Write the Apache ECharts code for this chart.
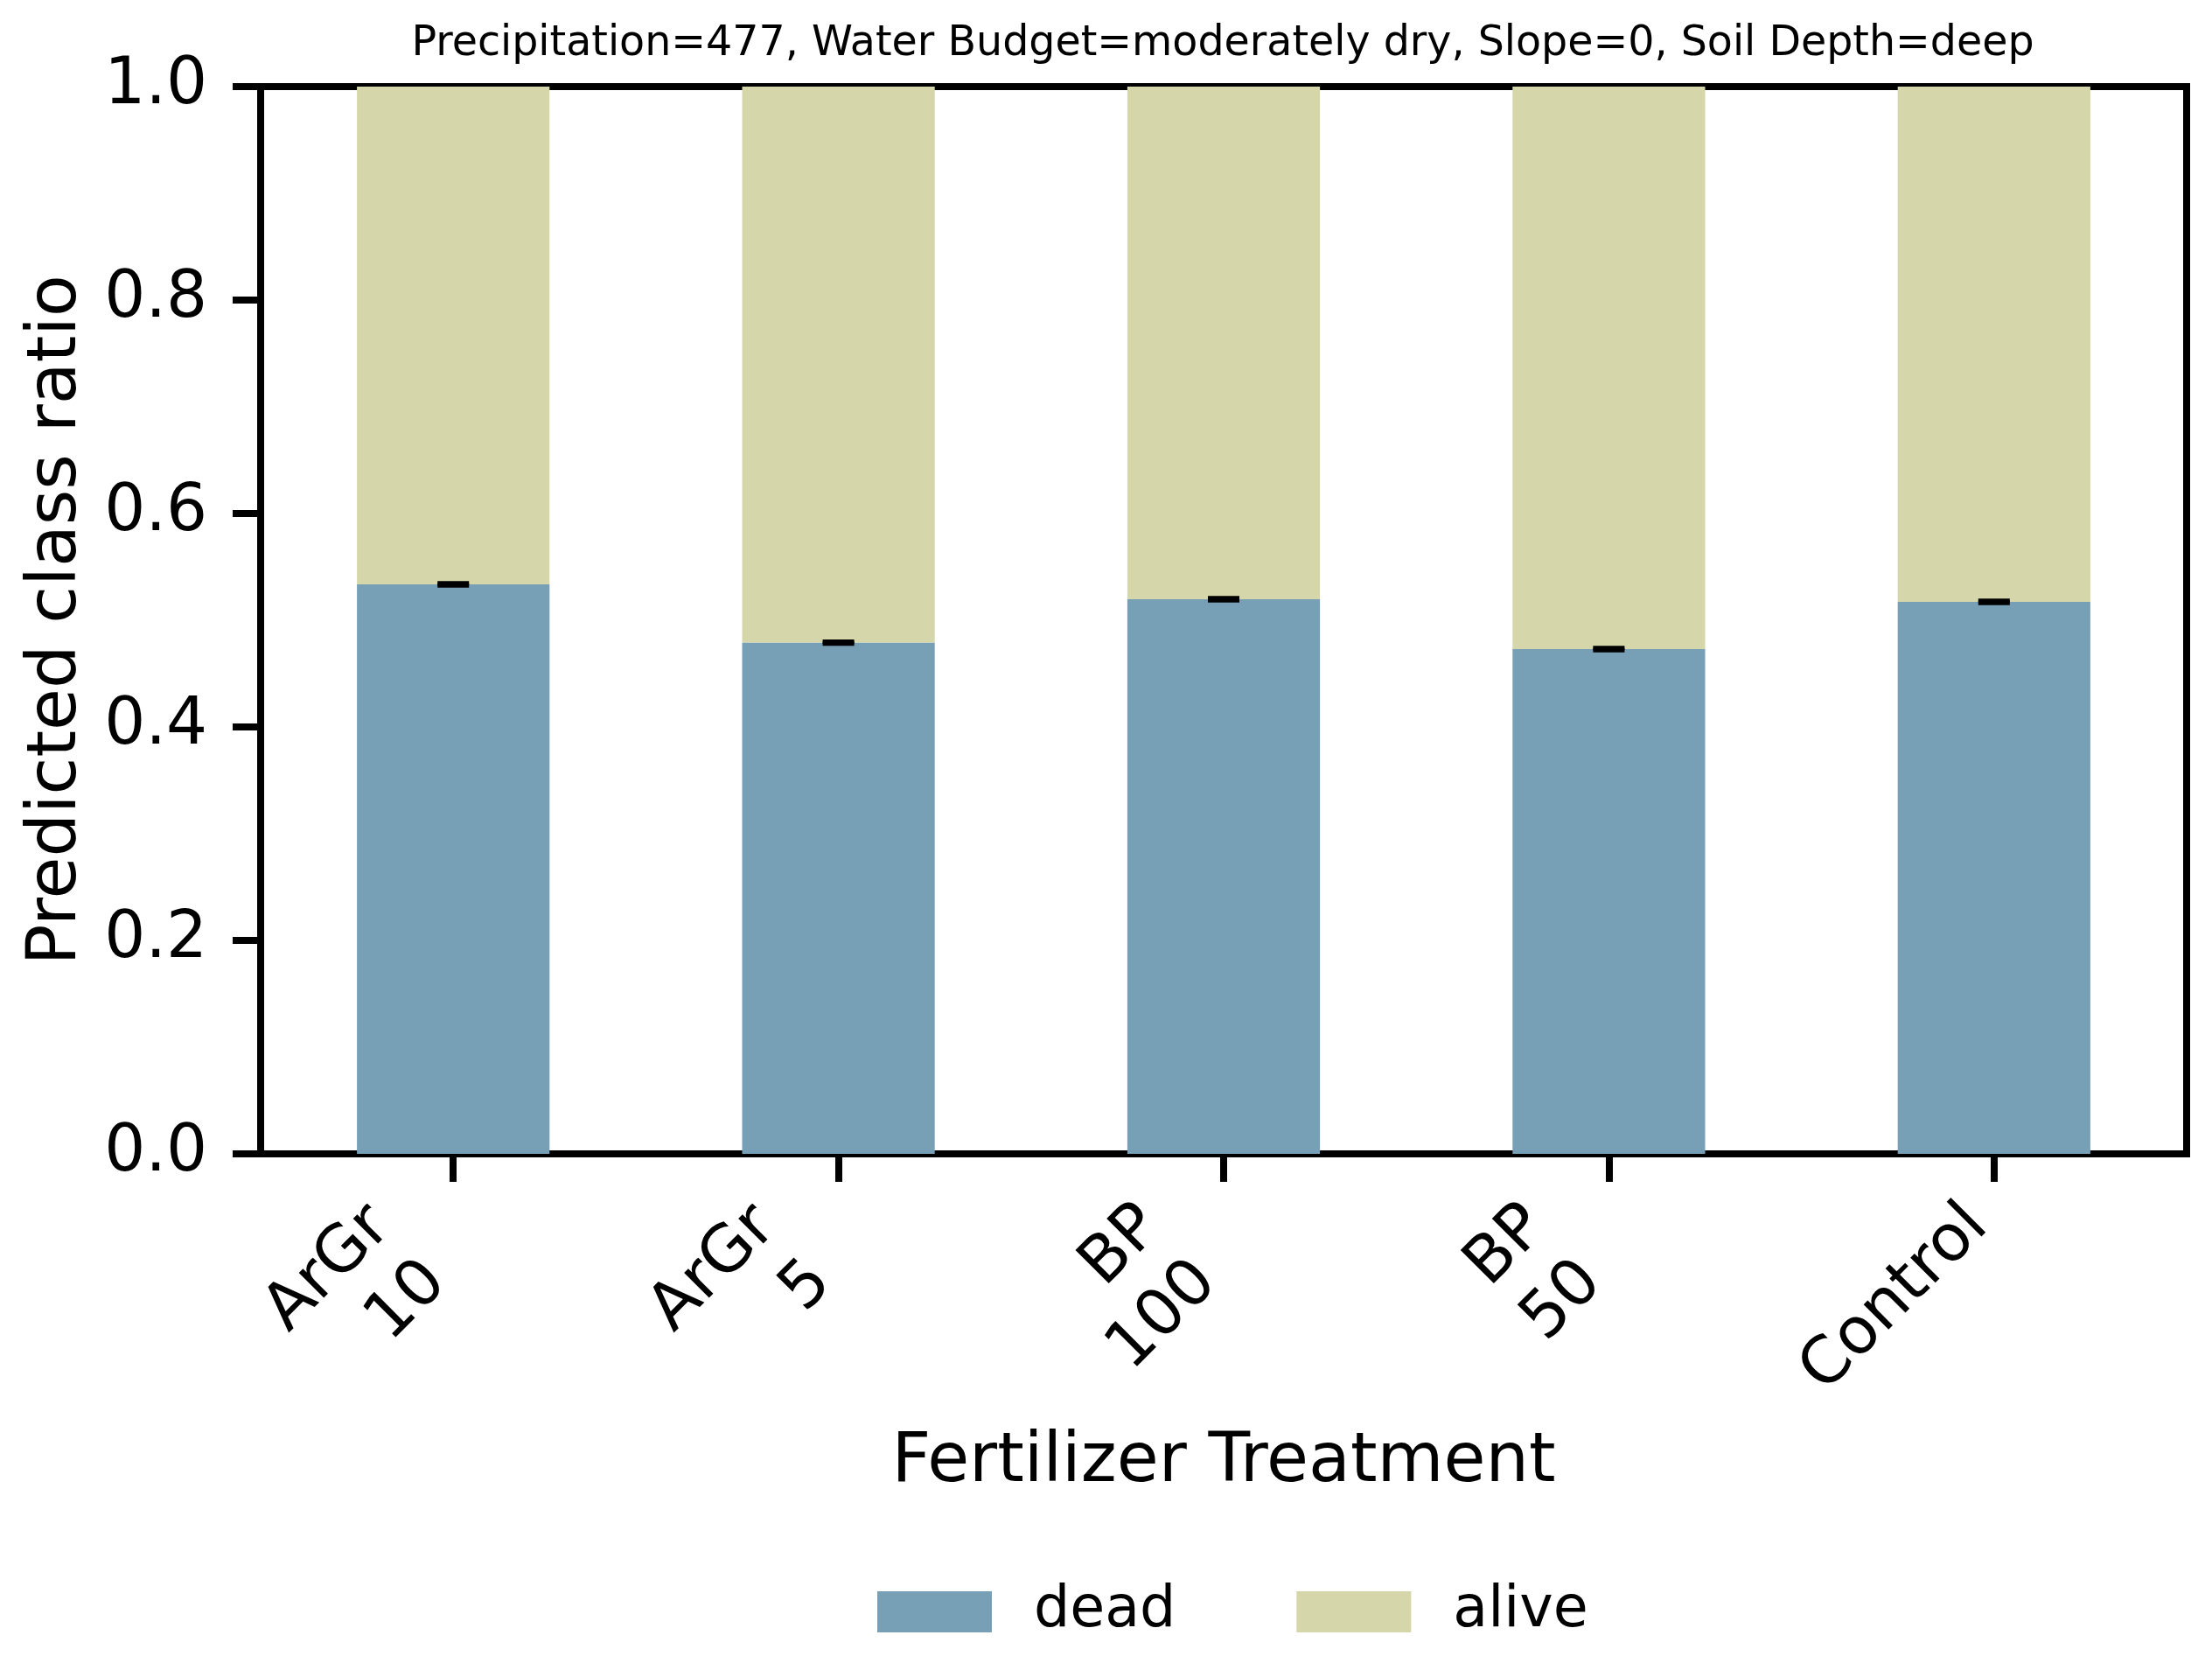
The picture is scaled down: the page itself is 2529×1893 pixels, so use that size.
<!DOCTYPE html>
<html>
<head>
<meta charset="utf-8">
<script src="https://cdn.jsdelivr.net/npm/echarts@6/dist/echarts.min.js"></script>
<style>
html,body{margin:0;padding:0;background:#fff;}
#chart{width:2529px;height:1893px;}
</style>
</head>
<body>
<div id="chart"></div>
<script>
const categories = ['ArGr\n10', 'ArGr\n5', 'BP\n100', 'BP\n50', 'Control'];
const deadValues = [0.5336, 0.4790, 0.5197, 0.4730, 0.5172];
const aliveValues = [0.4664, 0.5210, 0.4803, 0.5270, 0.4828];
const deadErrLow = [0.5326, 0.4780, 0.5187, 0.4720, 0.5162];
const deadErrHigh = [0.5346, 0.4800, 0.5207, 0.4740, 0.5182];
const yTicks = [0, 0.2, 0.4, 0.6, 0.8, 1.0];
const titleText = 'Precipitation=477, Water Budget=moderately dry, Slope=0, Soil Depth=deep';

const FONT = 'DejaVu Sans';
const chart = echarts.init(document.getElementById('chart'), null, {renderer: 'canvas'});

const errData = categories.map((c, i) => [i, deadErrLow[i], deadErrHigh[i]]);

chart.setOption({
  animation: false,
  backgroundColor: '#ffffff',
  title: {
    text: titleText,
    left: 1393,
    top: 22,
    textAlign: 'center',
    textStyle: {fontFamily: FONT, fontSize: 47.5, fontWeight: 'normal', color: '#000'}
  },
  legend: {
    data: ['dead', 'alive'],
    left: 998,
    top: 1805,
    icon: 'rect',
    itemWidth: 131,
    itemHeight: 47,
    itemGap: 138,
    textStyle: {fontFamily: FONT, fontSize: 65, color: '#000', padding: [12, 0, 0, 43]}
  },
  grid: {
    left: 298, right: 29, top: 99, bottom: 574,
    show: true, borderColor: '#000', borderWidth: 8, backgroundColor: 'transparent'
  },
  xAxis: {
    type: 'category',
    data: categories,
    name: 'Fertilizer Treatment',
    nameLocation: 'middle',
    nameGap: 315,
    nameTextStyle: {fontFamily: FONT, fontSize: 78, color: '#000'},
    axisLine: {show: true, lineStyle: {color: '#000', width: 8}},
    axisTick: {show: true, alignWithLabel: true, length: 32, lineStyle: {color: '#000', width: 8}},
    axisLabel: {
      rotate: 45,
      interval: 0,
      margin: 53,
      color: '#000',
      fontFamily: FONT,
      fontSize: 74,
      formatter: function (v) {
        const lines = v.split('\n');
        const key = lines.length > 1 ? 'm' : 's';
        return lines.map(l => '{' + key + '|' + l + '}').join('\n');
      },
      rich: {
        m: {fontFamily: FONT, fontSize: 74, color: '#000', lineHeight: 90, padding: [0, 72, 0, 0]},
        s: {fontFamily: FONT, fontSize: 74, color: '#000', lineHeight: 90, padding: [0, 26, 0, 0]}
      }
    },
    splitLine: {show: false}
  },
  yAxis: {
    type: 'value',
    min: 0,
    max: 1,
    interval: 0.2,
    name: 'Predicted class ratio',
    nameLocation: 'middle',
    nameGap: 193,
    nameTextStyle: {fontFamily: FONT, fontSize: 78, color: '#000'},
    axisLine: {show: true, lineStyle: {color: '#000', width: 8}},
    axisTick: {show: true, length: 32, lineStyle: {color: '#000', width: 8}},
    axisLabel: {
      margin: 61,
      color: '#000',
      fontFamily: FONT,
      fontSize: 74,
      formatter: function (v) { return yTicks.indexOf(v) >= 0 ? v.toFixed(1) : ''; }
    },
    splitLine: {show: false}
  },
  series: [
    {
      name: 'dead',
      type: 'bar',
      stack: 'ratio',
      barWidth: '50%',
      data: deadValues,
      itemStyle: {color: '#779fb5'}
    },
    {
      name: 'alive',
      type: 'bar',
      stack: 'ratio',
      barWidth: '50%',
      data: aliveValues,
      itemStyle: {color: '#d5d7ab'}
    },
    {
      name: 'err',
      type: 'custom',
      z: 10,
      data: errData,
      renderItem: function (params, api) {
        const idx = api.value(0);
        const lo = api.coord([idx, api.value(1)]);
        const hi = api.coord([idx, api.value(2)]);
        const hw = 18;
        const st = {stroke: '#000', lineWidth: 5};
        return {
          type: 'group',
          children: [
            {type: 'line', shape: {x1: lo[0], y1: lo[1], x2: hi[0], y2: hi[1]}, style: st},
            {type: 'line', shape: {x1: lo[0] - hw, y1: lo[1], x2: lo[0] + hw, y2: lo[1]}, style: st},
            {type: 'line', shape: {x1: hi[0] - hw, y1: hi[1], x2: hi[0] + hw, y2: hi[1]}, style: st}
          ]
        };
      }
    }
  ]
});
</script>
</body>
</html>
